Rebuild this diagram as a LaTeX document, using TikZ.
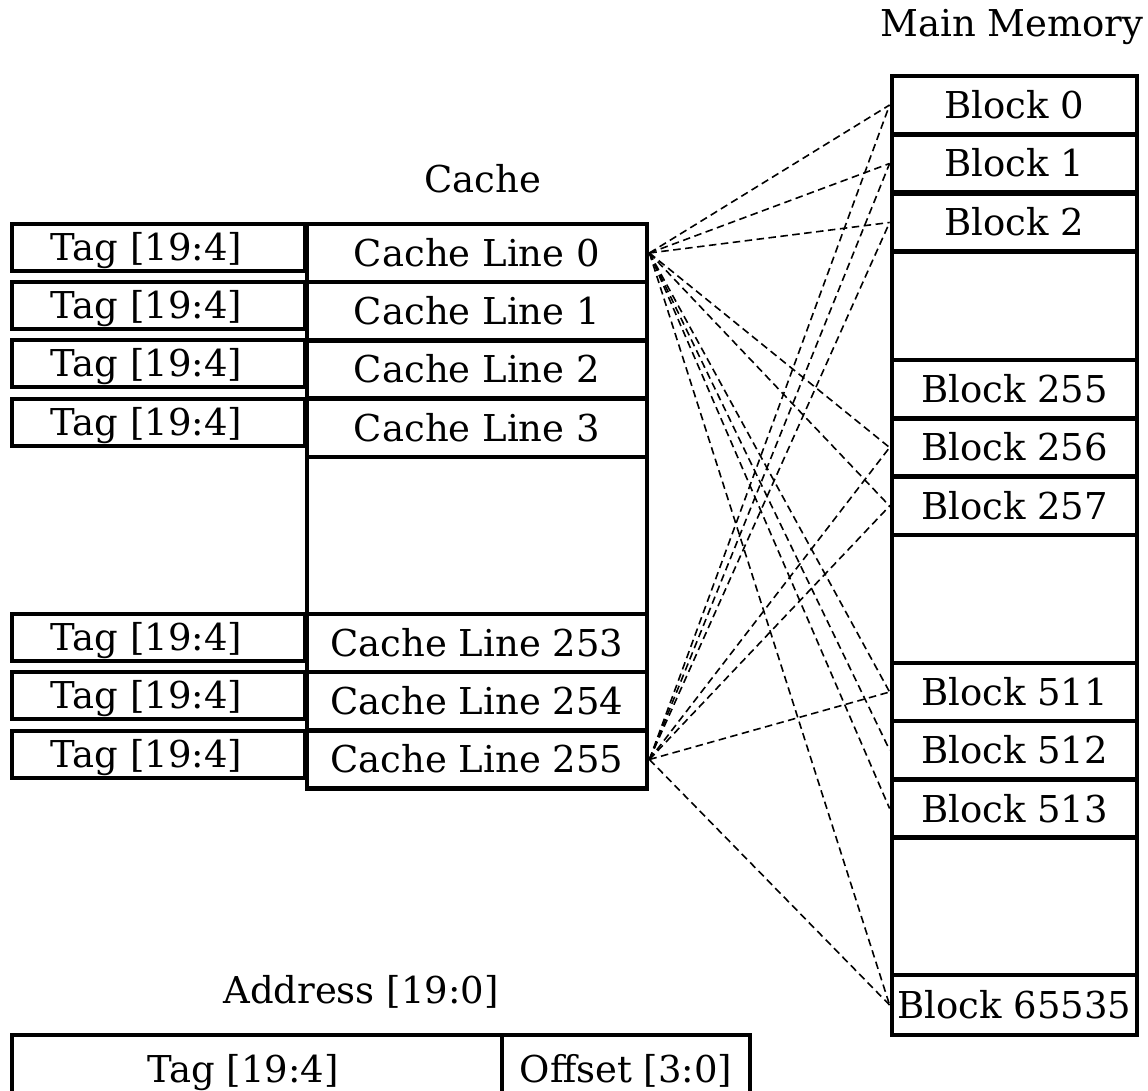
\documentclass[tikz,border=0pt]{standalone}
\usepackage{fontspec}
\setmainfont{DejaVu Serif}
\begin{document}
\begin{tikzpicture}[x=0.5pt,y=-0.5pt,
  font=\fontsize{18.5}{22}\selectfont,
  cell/.style={draw, line width=2.4pt, inner sep=0pt, text height=13.5pt, text depth=0pt, anchor=center},
  tagbox/.style={cell, minimum width=146.5pt, minimum height=23.5pt, execute at end node={\hspace*{12pt}}},
  cacheline/.style={cell, minimum width=170pt, minimum height=29pt},
  memblock/.style={cell, minimum width=122.5pt, minimum height=29pt},
  title/.style={inner sep=0pt, text height=13.5pt, text depth=0pt, anchor=center},
  link/.style={line width=0.8pt, dash pattern=on 3.75pt off 2.25pt}
]
\useasboundingbox (0,0) rectangle (1148,1091);

% titles
\node[title] (memtitle) at (1012,23) {Main Memory};
\node[title] (cachetitle) at (483,179.5) {Cache};
\node[title] (addrtitle) at (361,990) {Address [19:0]};

% tag fields beside the cache lines
\node[tagbox] (tag0)   at (158.5,247.5) {Tag [19:4]};
\node[tagbox] (tag1)   at (158.5,305.5) {Tag [19:4]};
\node[tagbox] (tag2)   at (158.5,363.5) {Tag [19:4]};
\node[tagbox] (tag3)   at (158.5,422.5) {Tag [19:4]};
\node[tagbox] (tag253) at (158.5,637.5) {Tag [19:4]};
\node[tagbox] (tag254) at (158.5,695.5) {Tag [19:4]};
\node[tagbox] (tag255) at (158.5,754.5) {Tag [19:4]};

% cache lines
\node[cacheline] (cl0)   at (477,253)   {Cache Line 0};
\node[cacheline] (cl1)   at (477,311)   {Cache Line 1};
\node[cacheline] (cl2)   at (477,369.5) {Cache Line 2};
\node[cacheline] (cl3)   at (477,428)   {Cache Line 3};
\node[cacheline, minimum height=78.5pt] (clgap) at (477,535.5) {};
\node[cacheline] (cl253) at (477,643)   {Cache Line 253};
\node[cacheline] (cl254) at (477,701)   {Cache Line 254};
\node[cacheline] (cl255) at (477,759.5) {Cache Line 255};

% main memory blocks
\node[memblock] (blk0)     at (1014.5,105)   {Block 0};
\node[memblock] (blk1)     at (1014.5,163.5) {Block 1};
\node[memblock] (blk2)     at (1014.5,222.5) {Block 2};
\node[memblock, minimum height=54pt] (mgap1) at (1014.5,306) {};
\node[memblock] (blk255)   at (1014.5,389)   {Block 255};
\node[memblock] (blk256)   at (1014.5,447.5) {Block 256};
\node[memblock] (blk257)   at (1014.5,506)   {Block 257};
\node[memblock, minimum height=64pt] (mgap2) at (1014.5,599) {};
\node[memblock] (blk511)   at (1014.5,692)   {Block 511};
\node[memblock] (blk512)   at (1014.5,750)   {Block 512};
\node[memblock] (blk513)   at (1014.5,808.5) {Block 513};
\node[memblock, minimum height=68.5pt] (mgap3) at (1014.5,906.5) {};
\node[memblock, minimum height=30pt] (blk65535) at (1014.5,1005) {Block 65535};

% address layout (runs past the lower page edge)
\node[cell, minimum width=245pt, minimum height=33.5pt] (addrtag) at (257,1068.5)
  {Tag [19:4]\hspace*{14pt}};
\node[cell, minimum width=124pt, minimum height=33.5pt] (addroff) at (626,1068.5)
  {Offset [3:0]};

% possible placements of memory blocks in cache
\foreach \b in {blk0,blk1,blk2,blk256,blk257,blk511,blk512,blk513,blk65535}
  \draw[link] (cl0.east) -- (\b.west);
\foreach \b in {blk0,blk1,blk2,blk256,blk257,blk511,blk65535}
  \draw[link] (cl255.east) -- (\b.west);
\end{tikzpicture}
\end{document}
